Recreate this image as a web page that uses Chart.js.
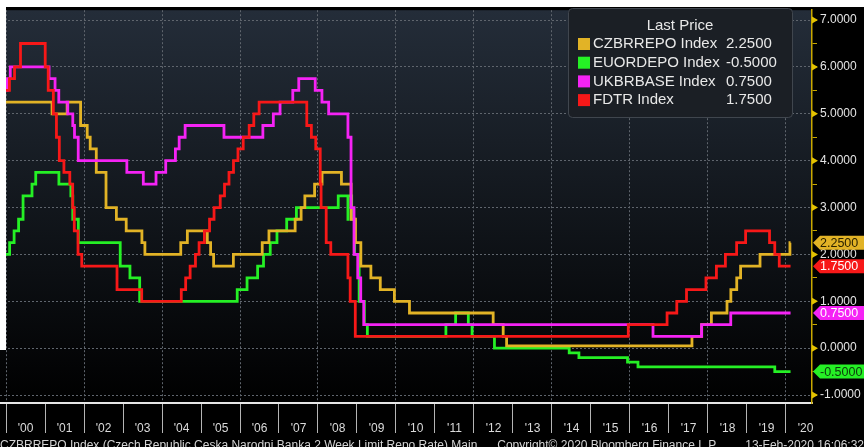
<!DOCTYPE html>
<html>
<head>
<meta charset="utf-8">
<script src="https://cdn.jsdelivr.net/npm/chart.js@4.4.1/dist/chart.umd.min.js"></script>
<style>
  html, body { margin: 0; padding: 0; background: #fff; }
  #chart { display: block; }
</style>
</head>
<body>
<canvas id="chart" width="864" height="447"></canvas>
<script>
// Policy rates, as step levels: each rate holds from its date until the next one
var seriesNames = ['CZBRREPO Index', 'EUORDEPO Index', 'UKBRBASE Index', 'FDTR Index'];

var czDates = ['2000-01-01', '2001-03-08', '2001-07-27', '2001-11-30', '2002-01-31', '2002-02-28', '2002-04-26',
  '2002-07-26', '2002-10-31', '2003-01-31', '2003-06-27', '2003-07-25', '2004-06-25', '2004-08-26', '2005-03-01',
  '2005-04-01', '2005-04-29', '2005-10-31', '2006-07-28', '2006-09-29', '2007-06-01', '2007-07-27', '2007-08-31',
  '2007-11-30', '2008-02-08', '2008-08-08', '2008-11-07', '2008-12-18', '2009-02-06', '2009-05-11', '2009-08-07',
  '2009-12-17', '2010-05-07', '2012-06-29', '2012-10-01', '2012-11-02', '2017-08-04', '2017-11-03', '2018-02-02',
  '2018-06-28', '2018-08-03', '2018-09-27', '2018-11-02', '2019-05-03', '2020-02-07', '2020-02-13'];
var czRates = [5.25, 5.0, 5.25, 4.75, 4.5, 4.25, 3.75,
  3.0, 2.75, 2.5, 2.25, 2.0, 2.25, 2.5, 2.25,
  2.0, 1.75, 2.0, 2.25, 2.5, 2.75, 3.0, 3.25,
  3.5, 3.75, 3.5, 2.75, 2.25, 1.75, 1.5, 1.25,
  1.0, 0.75, 0.5, 0.25, 0.05, 0.25, 0.5, 0.75,
  1.0, 1.25, 1.5, 1.75, 2.0, 2.25, 2.25];

var euDates = ['2000-01-01', '2000-02-04', '2000-03-17', '2000-04-28', '2000-06-09', '2000-09-01', '2000-10-06',
  '2001-05-11', '2001-08-31', '2001-09-18', '2001-11-09', '2002-12-06', '2003-03-07', '2003-06-06', '2005-12-06',
  '2006-03-08', '2006-06-15', '2006-08-09', '2006-10-11', '2006-12-13', '2007-03-14', '2007-06-13', '2008-07-09',
  '2008-10-08', '2008-10-09', '2008-11-12', '2008-12-10', '2009-01-21', '2009-03-11', '2009-04-08', '2011-04-13',
  '2011-07-13', '2011-11-09', '2011-12-14', '2012-07-11', '2014-06-11', '2014-09-10', '2015-12-09', '2016-03-16',
  '2019-09-18', '2020-02-13'];
var euRates = [2.0, 2.25, 2.5, 2.75, 3.25, 3.5, 3.75,
  3.5, 3.25, 2.75, 2.25, 1.75, 1.5, 1.0, 1.25,
  1.5, 1.75, 2.0, 2.25, 2.5, 2.75, 3.0, 3.25,
  2.75, 3.25, 2.75, 2.0, 1.0, 0.5, 0.25, 0.5,
  0.75, 0.5, 0.25, 0.0, -0.1, -0.2, -0.3, -0.4,
  -0.5, -0.5];

var ukDates = ['2000-01-01', '2000-01-13', '2000-02-10', '2001-02-08', '2001-04-05', '2001-05-10', '2001-08-02',
  '2001-09-18', '2001-10-04', '2001-11-08', '2003-02-06', '2003-07-10', '2003-11-06', '2004-02-05', '2004-05-06',
  '2004-06-10', '2004-08-05', '2005-08-04', '2006-08-03', '2006-11-09', '2007-01-11', '2007-05-10', '2007-07-05',
  '2007-12-06', '2008-02-07', '2008-04-10', '2008-10-08', '2008-11-06', '2008-12-04', '2009-01-08', '2009-02-05',
  '2009-03-05', '2016-08-04', '2017-11-02', '2018-08-02', '2020-02-13'];
var ukRates = [5.5, 5.75, 6.0, 5.75, 5.5, 5.25, 5.0,
  4.75, 4.5, 4.0, 3.75, 3.5, 3.75, 4.0, 4.25,
  4.5, 4.75, 4.5, 4.75, 5.0, 5.25, 5.5, 5.75,
  5.5, 5.25, 5.0, 4.5, 3.0, 2.0, 1.5, 1.0,
  0.5, 0.25, 0.5, 0.75, 0.75];

var fdDates = ['2000-01-01', '2000-02-02', '2000-03-21', '2000-05-16', '2001-01-03', '2001-01-31', '2001-03-20',
  '2001-04-18', '2001-05-15', '2001-06-27', '2001-08-21', '2001-09-17', '2001-10-02', '2001-11-06', '2001-12-11',
  '2002-11-06', '2003-06-25', '2004-06-30', '2004-08-10', '2004-09-21', '2004-11-10', '2004-12-14', '2005-02-02',
  '2005-03-22', '2005-05-03', '2005-06-30', '2005-08-09', '2005-09-20', '2005-11-01', '2005-12-13', '2006-01-31',
  '2006-03-28', '2006-05-10', '2006-06-29', '2007-09-18', '2007-10-31', '2007-12-11', '2008-01-22', '2008-01-30',
  '2008-03-18', '2008-04-30', '2008-10-08', '2008-10-29', '2008-12-16', '2015-12-16', '2016-12-14', '2017-03-15',
  '2017-06-14', '2017-12-13', '2018-03-21', '2018-06-13', '2018-09-26', '2018-12-19', '2019-07-31', '2019-09-18',
  '2019-10-30', '2020-02-13'];
var fdRates = [5.5, 5.75, 6.0, 6.5, 6.0, 5.5, 5.0,
  4.5, 4.0, 3.75, 3.5, 3.0, 2.5, 2.0, 1.75,
  1.25, 1.0, 1.25, 1.5, 1.75, 2.0, 2.25, 2.5,
  2.75, 3.0, 3.25, 3.5, 3.75, 4.0, 4.25, 4.5,
  4.75, 5.0, 5.25, 4.75, 4.5, 4.25, 3.5, 3.0,
  2.25, 2.0, 1.5, 1.0, 0.25, 0.5, 0.75, 1.0,
  1.25, 1.5, 1.75, 2.0, 2.25, 2.5, 2.25, 2.0,
  1.75, 1.75];

var yearTicks = [2000, 2001, 2002, 2003, 2004, 2005, 2006, 2007, 2008, 2009, 2010,
  2011, 2012, 2013, 2014, 2015, 2016, 2017, 2018, 2019, 2020];
var rateTicks = [-1, -0.5, 0, 0.5, 1, 1.5, 2, 2.5, 3, 3.5, 4, 4.5, 5, 5.5, 6, 6.5, 7];

var colors = ['#e2b326', '#25f025', '#f523f5', '#f71818'];
var flagText = ['#2a2200', '#0d3a0d', '#ffffff', '#ffffff'];
var drawOrder = [2, 3, 1, 0]; // red on top, then magenta, then yellow, green underneath

var allDates = [czDates, euDates, ukDates, fdDates];
var allRates = [czRates, euRates, ukRates, fdRates];

// 'YYYY-MM-DD' -> decimal year
function yr(s) {
  var p = s.split('-').map(Number);
  var start = Date.UTC(p[0], 0, 1), end = Date.UTC(p[0] + 1, 0, 1);
  return p[0] + (Date.UTC(p[0], p[1] - 1, p[2]) - start) / (end - start);
}

var FONT = '"Liberation Sans", Arial, sans-serif';

var bbgPlugin = {
  id: 'bbg',
  beforeDraw: function(chart) {
    var ctx = chart.ctx, a = chart.chartArea;
    ctx.save();
    ctx.fillStyle = '#000';
    ctx.fillRect(0, 0, chart.width, chart.height);
    var g = ctx.createLinearGradient(0, a.top, 0, a.bottom);
    g.addColorStop(0, '#242d39');
    g.addColorStop(1, '#000000');
    ctx.fillStyle = g;
    ctx.fillRect(a.left, a.top, a.right - a.left, a.bottom - a.top);
    ctx.restore();
  },
  afterDraw: function(chart) {
    var ctx = chart.ctx, a = chart.chartArea;
    var ys = chart.scales.y;
    ctx.save();

    // yellow arrows at the labelled levels
    ctx.fillStyle = '#e3c200';
    rateTicks.forEach(function(v) {
      if (!Number.isInteger(v)) return;
      var y = ys.getPixelForValue(v);
      ctx.beginPath();
      ctx.moveTo(a.right, y - 3.5);
      ctx.lineTo(a.right + 6, y);
      ctx.lineTo(a.right, y + 3.5);
      ctx.closePath();
      ctx.fill();
    });

    // last value flags
    ctx.font = '12.5px ' + FONT;
    ctx.textBaseline = 'middle';
    ctx.textAlign = 'left';
    allRates.forEach(function(r, i) {
      var v = r[r.length - 1];
      var y = ys.getPixelForValue(v);
      ctx.fillStyle = colors[i];
      ctx.beginPath();
      ctx.moveTo(a.right + 1, y);
      ctx.lineTo(a.right + 8, y - 7);
      ctx.lineTo(chart.width, y - 7);
      ctx.lineTo(chart.width, y + 7);
      ctx.lineTo(a.right + 8, y + 7);
      ctx.closePath();
      ctx.fill();
      ctx.fillStyle = flagText[i];
      ctx.fillText(v.toFixed(4), a.right + 8, y + 0.5);
    });

    // legend box
    ctx.beginPath();
    ctx.roundRect(568.5, 8.5, 224, 109, 4);
    ctx.fillStyle = '#1b1f25';
    ctx.fill();
    ctx.strokeStyle = '#40464e';
    ctx.lineWidth = 1;
    ctx.stroke();
    ctx.font = '15px ' + FONT;
    ctx.fillStyle = '#e8e8e8';
    ctx.textAlign = 'center';
    ctx.fillText('Last Price', 680, 26);
    ctx.textAlign = 'left';
    seriesNames.forEach(function(name, i) {
      var y = 44 + i * 18.7;
      var r = allRates[i];
      ctx.fillStyle = colors[i];
      ctx.fillRect(578, y - 6, 12, 12);
      ctx.fillStyle = '#e8e8e8';
      ctx.fillText(name, 593, y);
      ctx.fillText(r[r.length - 1].toFixed(4), 726, y);
    });

    // footer
    ctx.font = '12px ' + FONT;
    ctx.fillStyle = '#d4d4d4';
    ctx.textBaseline = 'alphabetic';
    ctx.fillText('CZBRREPO Index (Czech Republic Ceska Narodni Banka 2 Week Limit Repo Rate) Main', 0, 449);
    ctx.textAlign = 'right';
    ctx.fillText('Copyright\u00A9 2020 Bloomberg Finance L.P.', 718, 449);
    ctx.fillText('13-Feb-2020 16:06:32', 864, 449);

    // white page margins around the crop
    ctx.fillStyle = '#fff';
    ctx.fillRect(0, 0, chart.width, 7);
    ctx.fillRect(0, 0, 6, 350);
    ctx.restore();
  }
};

new Chart(document.getElementById('chart'), {
  type: 'line',
  data: {
    datasets: seriesNames.map(function(name, i) {
      return {
        label: name,
        data: allDates[i].map(function(d, k) { return { x: yr(d), y: allRates[i][k] }; }),
        borderColor: colors[i],
        backgroundColor: colors[i],
        borderWidth: 2.8,
        stepped: 'before',
        pointRadius: 0,
        fill: false,
        order: drawOrder[i]
      };
    })
  },
  options: {
    responsive: false,
    animation: false,
    layout: { padding: { top: 7, left: 0, right: 0, bottom: 0 } },
    plugins: { legend: { display: false }, tooltip: { enabled: false } },
    scales: {
      x: {
        type: 'linear',
        min: 1999.846,
        max: 2020.667,
        afterBuildTicks: function(s) { s.ticks = yearTicks.map(function(v) { return { value: v }; }); },
        afterFit: function(s) { s.height = 44; },
        grid: {
          color: function(c) { return (c.tick && c.tick.value % 2 === 0) ? '#5f656d' : 'rgba(0,0,0,0)'; },
          tickColor: '#b4b4b4',
          tickLength: 30
        },
        border: { display: true, color: '#e6e6e6', width: 2, dash: [2, 2] },
        ticks: {
          autoSkip: false,
          maxRotation: 0,
          labelOffset: 19.5,
          padding: -12,
          color: '#dadada',
          font: { family: FONT, size: 12 },
          callback: function(v) { return "'" + String(v % 100).padStart(2, '0'); }
        }
      },
      y: {
        position: 'right',
        min: -1.17,
        max: 7.21,
        afterBuildTicks: function(s) { s.ticks = rateTicks.map(function(v) { return { value: v }; }); },
        afterFit: function(s) { s.width = 52; },
        grid: {
          color: function(c) { return (c.tick && Number.isInteger(c.tick.value)) ? '#5f656d' : 'rgba(0,0,0,0)'; },
          tickColor: '#c9a800',
          tickLength: 5
        },
        border: { display: true, color: '#c9a800', width: 1.5, dash: [2, 2] },
        ticks: {
          padding: 3,
          color: '#e4e4e4',
          font: { family: FONT, size: 12 },
          callback: function(v) { return Number.isInteger(v) ? v.toFixed(4) : ''; }
        }
      }
    }
  },
  plugins: [bbgPlugin]
});
</script>
</body>
</html>
